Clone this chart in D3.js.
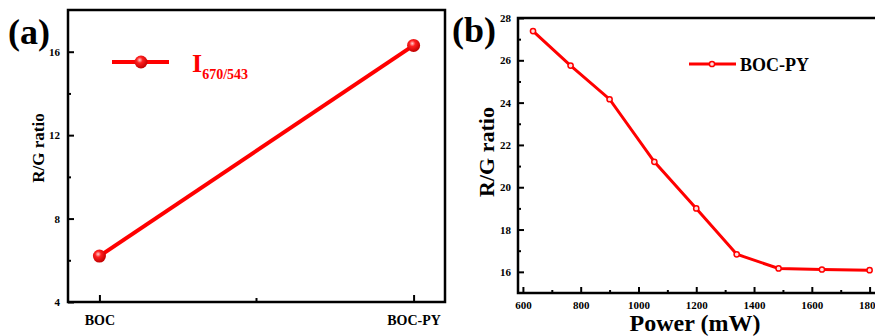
<!DOCTYPE html>
<meta charset="utf-8">
<script src="https://cdn.jsdelivr.net/npm/d3@7"></script>
<style>
body { margin: 0; background-color: #fff; }
svg { font-family: "Liberation Serif", "Times New Roman", serif; font-weight: bold; }
.axis path { display: none; }
.axis line { stroke: #000; stroke-width: 2px; }
.axis text { font-size: 11px; fill: #000; font-family: "Liberation Serif", serif; font-weight: bold; }
</style>
<body>
<div id="chart"></div>
</body>
<script>
// panel (a)
var samples = ["BOC", "BOC-PY"];
var ratioA = [6.2, 16.3];
var yTicksA = [4, 8, 12, 16];
var yMinorA = [6, 10, 14];

// panel (b)
var power = [635, 765, 900, 1055, 1200, 1340, 1485, 1635, 1800];
var ratioB = [27.38, 25.75, 24.16, 21.2, 19.0, 16.83, 16.16, 16.11, 16.08];
var xTicksB = [600, 800, 1000, 1200, 1400, 1600, 1800];
var xMinorB = [700, 900, 1100, 1300, 1500, 1700];
var yTicksB = [16, 18, 20, 22, 24, 26, 28];
var yMinorB = [17, 19, 21, 23, 25, 27];

var red = "#ff0000";

var svg = d3.select("#chart").append("svg")
    .attr("width", 875)
    .attr("height", 336);

var defs = svg.append("defs");
var grad = defs.append("radialGradient")
    .attr("id", "ball")
    .attr("cx", "40%").attr("cy", "35%").attr("r", "65%");
grad.append("stop").attr("offset", "0%").attr("stop-color", "#ffd0d0");
grad.append("stop").attr("offset", "35%").attr("stop-color", "#ff2020");
grad.append("stop").attr("offset", "100%").attr("stop-color", "#c00000");

// ---------- panel (a) ----------
var a = {left: 68, top: 10, right: 445, bottom: 302};

var xA = d3.scalePoint().domain(samples).range([a.left, a.right]).padding(0.1);
var yA = d3.scaleLinear().domain([4, 18]).range([a.bottom, a.top]);

var ga = svg.append("g");

ga.append("g")
    .attr("class", "axis")
    .attr("transform", "translate(" + a.left + ",0)")
    .call(d3.axisLeft(yA).tickValues(yTicksA).tickSize(-6).tickPadding(8).tickFormat(d3.format("d")));
ga.append("g")
    .attr("class", "axis")
    .attr("transform", "translate(" + a.left + ",0)")
    .call(d3.axisLeft(yA).tickValues(yMinorA).tickSize(-3).tickFormat(""));

ga.append("g")
    .attr("class", "axis")
    .attr("transform", "translate(0," + a.bottom + ")")
    .call(d3.axisBottom(xA).tickSize(-7).tickPadding(13))
    .selectAll("text").style("font-size", "14px");

var midA = (xA(samples[0]) + xA(samples[1])) / 2;
ga.append("line")
    .attr("x1", midA).attr("x2", midA)
    .attr("y1", a.bottom).attr("y2", a.bottom - 4)
    .attr("stroke", "#000").attr("stroke-width", 2);

ga.append("rect")
    .attr("x", a.left).attr("y", a.top)
    .attr("width", a.right - a.left).attr("height", a.bottom - a.top)
    .attr("fill", "none").attr("stroke", "#000").attr("stroke-width", 2.5);

var lineA = d3.line()
    .x(function(d, i) { return xA(samples[i]); })
    .y(function(d) { return yA(d); });

ga.append("path")
    .datum(ratioA)
    .attr("d", lineA)
    .attr("fill", "none")
    .attr("stroke", red)
    .attr("stroke-width", 4);

ga.selectAll(".ball")
    .data(ratioA)
    .enter().append("circle")
    .attr("cx", function(d, i) { return xA(samples[i]); })
    .attr("cy", function(d) { return yA(d); })
    .attr("r", 6.5)
    .attr("fill", "url(#ball)");

// legend (a)
ga.append("line")
    .attr("x1", 112).attr("x2", 169).attr("y1", 62).attr("y2", 62)
    .attr("stroke", red).attr("stroke-width", 4);
ga.append("circle").attr("cx", 141).attr("cy", 62).attr("r", 6.5).attr("fill", "url(#ball)");
var legA = ga.append("text")
    .attr("x", 192).attr("y", 72)
    .attr("fill", red)
    .style("font-size", "26px");
legA.append("tspan").text("I");
legA.append("tspan").attr("dy", 7).style("font-size", "14px").text("670/543");

ga.append("text")
    .attr("x", 8).attr("y", 44)
    .style("font-size", "36px")
    .text("(a)");

ga.append("text")
    .attr("transform", "translate(44,148) rotate(-90)")
    .attr("text-anchor", "middle")
    .style("font-size", "17px")
    .text("R/G ratio");

// ---------- panel (b) ----------
var b = {left: 518, top: 18, right: 880, bottom: 293};

var xB = d3.scaleLinear().domain([583, 1836]).range([b.left, b.right]);
var yB = d3.scaleLinear().domain([15, 28]).range([b.bottom, b.top]);

var gb = svg.append("g");

gb.append("g")
    .attr("class", "axis")
    .attr("transform", "translate(" + b.left + ",0)")
    .call(d3.axisLeft(yB).tickValues(yTicksB).tickSize(-6).tickPadding(7).tickFormat(d3.format("d")));
gb.append("g")
    .attr("class", "axis")
    .attr("transform", "translate(" + b.left + ",0)")
    .call(d3.axisLeft(yB).tickValues(yMinorB).tickSize(-3).tickFormat(""));

gb.append("g")
    .attr("class", "axis")
    .attr("transform", "translate(0," + b.bottom + ")")
    .call(d3.axisBottom(xB).tickValues(xTicksB).tickSize(-6).tickPadding(8).tickFormat(d3.format("d")));
gb.append("g")
    .attr("class", "axis")
    .attr("transform", "translate(0," + b.bottom + ")")
    .call(d3.axisBottom(xB).tickValues(xMinorB).tickSize(-3).tickFormat(""));

gb.append("rect")
    .attr("x", b.left).attr("y", b.top)
    .attr("width", b.right - b.left).attr("height", b.bottom - b.top)
    .attr("fill", "none").attr("stroke", "#000").attr("stroke-width", 2.5);

var lineB = d3.line()
    .x(function(d, i) { return xB(power[i]); })
    .y(function(d) { return yB(d); });

gb.append("path")
    .datum(ratioB)
    .attr("d", lineB)
    .attr("fill", "none")
    .attr("stroke", red)
    .attr("stroke-width", 3);

gb.selectAll(".dot")
    .data(ratioB)
    .enter().append("circle")
    .attr("cx", function(d, i) { return xB(power[i]); })
    .attr("cy", function(d) { return yB(d); })
    .attr("r", 2.6)
    .attr("fill", "#ffdede")
    .attr("stroke", red)
    .attr("stroke-width", 1.5);

// legend (b)
gb.append("line")
    .attr("x1", 689).attr("x2", 736).attr("y1", 64).attr("y2", 64)
    .attr("stroke", red).attr("stroke-width", 3);
gb.append("circle").attr("cx", 712).attr("cy", 64).attr("r", 2.6)
    .attr("fill", "#ffdede").attr("stroke", red).attr("stroke-width", 1.5);
gb.append("text")
    .attr("x", 740).attr("y", 71)
    .style("font-size", "18px")
    .text("BOC-PY");

gb.append("text")
    .attr("x", 452).attr("y", 42)
    .style("font-size", "36px")
    .text("(b)");

gb.append("text")
    .attr("transform", "translate(494,152) rotate(-90)")
    .attr("text-anchor", "middle")
    .style("font-size", "22px")
    .text("R/G ratio");

gb.append("text")
    .attr("x", 695).attr("y", 331)
    .attr("text-anchor", "middle")
    .style("font-size", "24px")
    .text("Power (mW)");
</script>
